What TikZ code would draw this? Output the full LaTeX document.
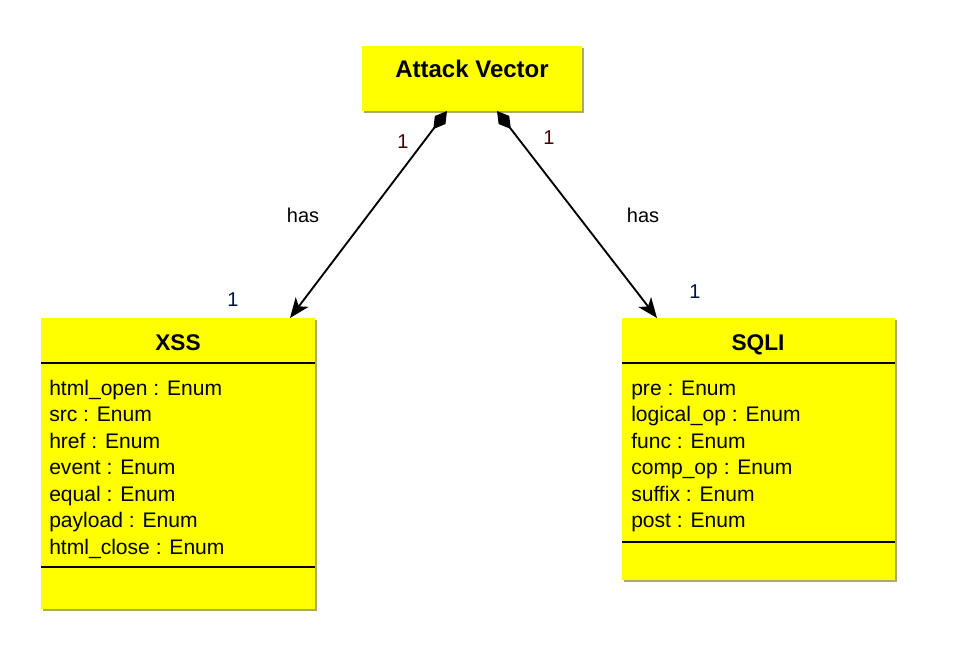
\documentclass[tikz,border=0pt]{standalone}
\usepackage{fontspec}
\setmainfont{Liberation Sans}
\usetikzlibrary{arrows.meta}
\definecolor{boxyellow}{RGB}{255,255,0}
\definecolor{shadowcol}{RGB}{170,170,110}
\definecolor{mulred}{RGB}{64,0,0}
\definecolor{mulblue}{RGB}{0,20,60}
\begin{document}
\begin{tikzpicture}[x=0.75pt,y=-0.75pt,
  boxfill/.style={fill=boxyellow,draw=none},
  boxshadow/.style={fill=shadowcol,draw=none},
  divider/.style={draw=black,line width=1pt},
  title/.style={font=\fontsize{17}{19}\selectfont\bfseries,inner sep=0pt,text height=0.75em,text depth=0.25em},
  attr/.style={font=\fontsize{15.8}{18}\selectfont,anchor=west,inner sep=0pt,text height=0.75em,text depth=0.25em},
  lbl/.style={font=\fontsize{15}{17}\selectfont,inner sep=0pt},
  assoc/.style={line width=1.4pt,{Diamond[length=17pt,width=10pt]}-{Stealth[length=15pt,width=12pt,inset=4pt]}}]
\useasboundingbox (0,0) rectangle (956,650);

% Attack Vector
\fill[boxshadow] (364,48) rectangle (584,113);
\fill[boxfill] (362,46) rectangle (582,111);
\node[title,font=\fontsize{18}{20}\selectfont\bfseries] (av) at (472,74) {Attack Vector};

% XSS
\fill[boxshadow] (43,320) rectangle (317,611);
\fill[boxfill] (41,318) rectangle (315,609);
\node[title] (xss) at (178,347) {XSS};
\draw[divider] (41,363) -- (315,363);
\draw[divider] (41,567) -- (315,567);
\node[attr] (x1) at (49,392) {html\_open : Enum};
\node[attr] (x2) at (49,418) {src : Enum};
\node[attr] (x3) at (49,445) {href : Enum};
\node[attr] (x4) at (49,471) {event : Enum};
\node[attr] (x5) at (49,498) {equal : Enum};
\node[attr] (x6) at (49,524) {payload : Enum};
\node[attr] (x7) at (49,551) {html\_close : Enum};

% SQLI
\fill[boxshadow] (624,320) rectangle (897,582);
\fill[boxfill] (622,318) rectangle (895,580);
\node[title] (sqli) at (758,347) {SQLI};
\draw[divider] (622,363) -- (895,363);
\draw[divider] (622,542) -- (895,542);
\node[attr] (s1) at (631,392) {pre : Enum};
\node[attr] (s2) at (631,418) {logical\_op : Enum};
\node[attr] (s3) at (631,445) {func : Enum};
\node[attr] (s4) at (631,471) {comp\_op : Enum};
\node[attr] (s5) at (631,498) {suffix : Enum};
\node[attr] (s6) at (631,524) {post : Enum};

% connector endpoints
\coordinate (avL) at (447,111);
\coordinate (avR) at (497,111);
\coordinate (xssT) at (290,318);
\coordinate (sqliT) at (657,318);

\draw[assoc] (avL) -- (xssT);
\draw[assoc] (avR) -- (sqliT);

% labels
\node[lbl,text=mulred] (m1) at (403,142) {1};
\node[lbl,text=mulred] (m2) at (549,138) {1};
\node[lbl] (h1) at (303,215) {has};
\node[lbl] (h2) at (643,215) {has};
\node[lbl,text=mulblue] (m3) at (233,300) {1};
\node[lbl,text=mulblue] (m4) at (695,292) {1};
\end{tikzpicture}
\end{document}
